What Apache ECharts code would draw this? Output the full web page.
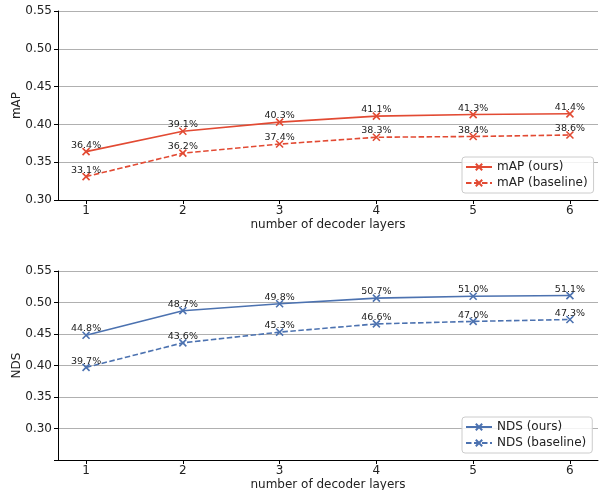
<!DOCTYPE html>
<html>
<head>
<meta charset="utf-8">
<script src="https://cdn.jsdelivr.net/npm/echarts@6/dist/echarts.min.js"></script>
<style>html,body{margin:0;padding:0;background:#fff}#c{width:602px;height:490px}</style>
</head>
<body>
<div id="c"></div>
<script>
const layers = [1, 2, 3, 4, 5, 6];
const mapOurs = [0.364, 0.391, 0.403, 0.411, 0.413, 0.414];
const mapBase = [0.331, 0.362, 0.374, 0.383, 0.384, 0.386];
const ndsOurs = [0.448, 0.487, 0.498, 0.507, 0.510, 0.511];
const ndsBase = [0.397, 0.436, 0.453, 0.466, 0.470, 0.473];
const mapTicks = [0.30, 0.35, 0.40, 0.45, 0.50, 0.55];
const ndsTicks = [0.30, 0.35, 0.40, 0.45, 0.50, 0.55];

const RED = '#E24A33';
const BLUE = '#4C72B0';
const FONT = 'DejaVu Sans';
const XSYM = 'path://M0,0L10,10M10,0L0,10';

function xAxis(gi) {
  return {
    type: 'value', gridIndex: gi, min: 0.71, max: 6.29,
    name: 'number of decoder layers', nameLocation: 'middle', nameGap: 19,
    nameMoveOverlap: false,
    nameTextStyle: { fontFamily: FONT, fontSize: 12, color: '#222' },
    axisLine: { lineStyle: { color: '#000', width: 1 } },
    axisTick: { show: true, length: 4, customValues: layers, lineStyle: { color: '#000' } },
    axisLabel: { customValues: layers, margin: 5, fontFamily: FONT, fontSize: 12, color: '#222' },
    splitLine: { show: false }
  };
}
function yAxis(gi, name, min, ticks) {
  return {
    type: 'value', gridIndex: gi, min: min, max: 0.55, interval: 0.05,
    name: name, nameLocation: 'middle', nameGap: 35, nameRotate: 90,
    nameMoveOverlap: false,
    nameTextStyle: { fontFamily: FONT, fontSize: 12, color: '#222' },
    axisLine: { show: true, lineStyle: { color: '#000', width: 1 } },
    axisTick: { show: true, length: 4, lineStyle: { color: '#000' } },
    axisLabel: {
      margin: 6, fontFamily: FONT, fontSize: 12, color: '#222',
      formatter: v => ticks.some(t => Math.abs(t - v) < 1e-6) ? v.toFixed(2) : ''
    },
    splitLine: { show: true, lineStyle: { color: '#b0b0b0', width: 1 } }
  };
}
function series(name, vals, color, dashed, xi) {
  return {
    name: name, type: 'line', xAxisIndex: xi, yAxisIndex: xi,
    data: layers.map((x, i) => [x, vals[i]]),
    symbol: XSYM, symbolSize: 7,
    lineStyle: { color: color, width: 1.6, type: dashed ? [5.5, 2.5] : 'solid' },
    itemStyle: { color: color, borderColor: color, borderWidth: 1.6 },
    label: {
      show: true, position: 'top', distance: -3,
      fontFamily: FONT, fontSize: 9.5, color: '#222',
      formatter: p => (p.value[1] * 100).toFixed(1) + '%'
    },
    emphasis: { disabled: true },
    animation: false
  };
}
function legend(names, top) {
  return {
    data: names, left: 462, top: top, orient: 'vertical',
    padding: [4, 6, 4, 3], itemGap: 4, itemWidth: 26, itemHeight: 8,
    borderColor: '#cccccc', borderWidth: 1, borderRadius: 3,
    backgroundColor: 'rgba(255,255,255,0.85)',
    textStyle: { fontFamily: FONT, fontSize: 12, color: '#222' }
  };
}

const chart = echarts.init(document.getElementById('c'), null, { renderer: 'canvas' });
chart.setOption({
  animation: false,
  backgroundColor: '#fff',
  grid: [
    { left: 58, top: 11, width: 540, height: 189, outerBoundsMode: 'none', containLabel: false },
    { left: 58, top: 271, width: 540, height: 189, outerBoundsMode: 'none', containLabel: false }
  ],
  xAxis: [xAxis(0), xAxis(1)],
  yAxis: [yAxis(0, 'mAP', 0.30, mapTicks), yAxis(1, 'NDS', 0.25, ndsTicks)],
  legend: [
    legend(['mAP (ours)', 'mAP (baseline)'], 157),
    legend(['NDS (ours)', 'NDS (baseline)'], 417)
  ],
  series: [
    series('mAP (ours)', mapOurs, RED, false, 0),
    series('mAP (baseline)', mapBase, RED, true, 0),
    series('NDS (ours)', ndsOurs, BLUE, false, 1),
    series('NDS (baseline)', ndsBase, BLUE, true, 1)
  ]
});
</script>
</body>
</html>
